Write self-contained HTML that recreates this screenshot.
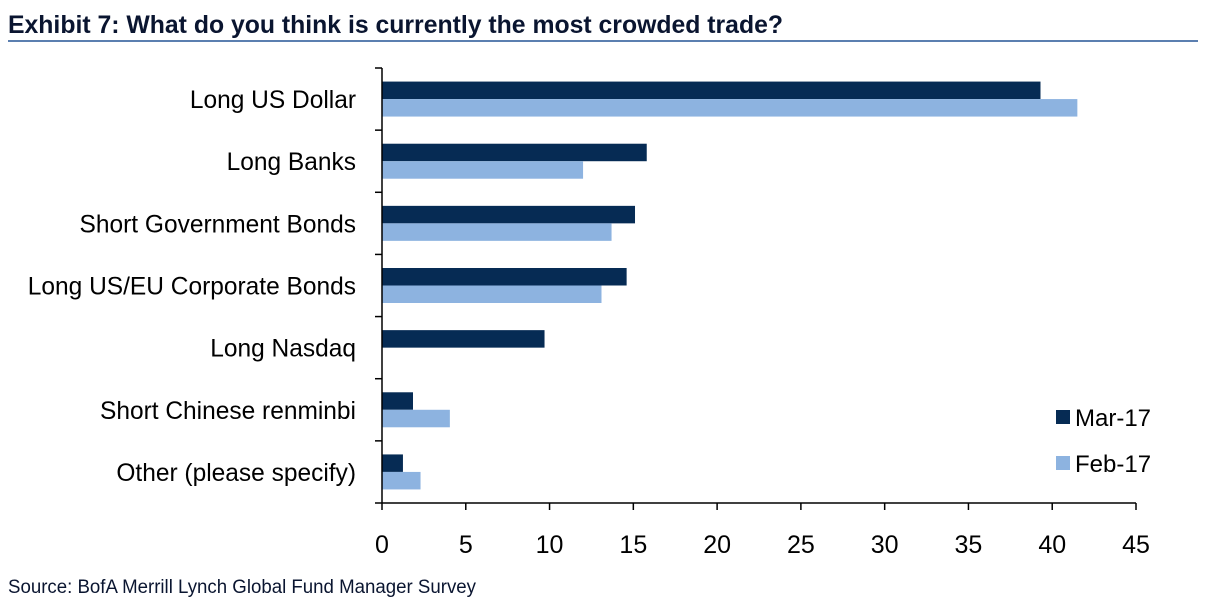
<!DOCTYPE html>
<html><head><meta charset="utf-8"><style>
body{margin:0;background:#fff;}
svg text{font-family:"Liberation Sans",Arial,sans-serif;}
</style></head><body>
<svg width="1208" height="607" viewBox="0 0 1208 607" xmlns="http://www.w3.org/2000/svg">
<text x="8" y="33" font-size="25" font-weight="bold" fill="#0a1530" textLength="775" lengthAdjust="spacingAndGlyphs">Exhibit 7: What do you think is currently the most crowded trade?</text>
<line x1="8" y1="41" x2="1198" y2="41" stroke="#5b7fb0" stroke-width="2"/>
<g id="plot"></g>
<rect x="1056" y="410" width="14" height="14" fill="#062b54"/>
<text x="1075" y="426" font-size="24" fill="#000">Mar-17</text>
<rect x="1056" y="456" width="14" height="14" fill="#8db3e0"/>
<text x="1075" y="472" font-size="24" fill="#000">Feb-17</text>
<text x="8" y="593" font-size="19" fill="#0a1530" textLength="468" lengthAdjust="spacingAndGlyphs">Source: BofA Merrill Lynch Global Fund Manager Survey</text>
</svg>
<script>
const categories = ["Long US Dollar","Long Banks","Short Government Bonds","Long US/EU Corporate Bonds","Long Nasdaq","Short Chinese renminbi","Other (please specify)"];
const mar17 = [39.3, 15.8, 15.1, 14.6, 9.7, 1.85, 1.25];
const feb17 = [41.5, 12.0, 13.7, 13.1, 0, 4.05, 2.3];
const xTicks = [0,5,10,15,20,25,30,35,40,45];

const NS="http://www.w3.org/2000/svg";
const plotG=document.getElementById('plot');
const xLeft=382, xRight=1136, yTop=68, yBottom=503;
const xMax=xTicks[xTicks.length-1];
const xs=v=>xLeft+v/xMax*(xRight-xLeft);
const rowH=(yBottom-yTop)/categories.length;
function mk(t,a){const e=document.createElementNS(NS,t);for(const k in a)e.setAttribute(k,a[k]);plotG.appendChild(e);return e;}

categories.forEach((c,i)=>{
  const yc=yTop+rowH*(i+0.5);
  const b1=mk('rect',{x:xLeft,y:yc-17.5,width:xs(mar17[i])-xLeft,height:17.5,fill:'#062b54'});
  
  
  const b2=mk('rect',{x:xLeft,y:yc,width:xs(feb17[i])-xLeft,height:17.5,fill:'#8db3e0'});
  
  
  const t=mk('text',{x:356,y:yc+9,'font-size':25,'text-anchor':'end',fill:'#000',transform:'translate(356 0) scale(0.98 1) translate(-356 0)'});
  t.textContent=c;
  
  
});
for(let i=0;i<=categories.length;i++){
  const y=yTop+rowH*i;
  const tk=mk('line',{x1:375,y1:y,x2:xLeft,y2:y,stroke:'#000','stroke-width':1.5});
  
  
}
const ya=mk('line',{x1:xLeft,y1:yTop,x2:xLeft,y2:yBottom,stroke:'#000','stroke-width':1.5});


const xa=mk('line',{x1:xLeft,y1:yBottom,x2:xRight,y2:yBottom,stroke:'#000','stroke-width':1.5});


xTicks.forEach(v=>{
  const tk=mk('line',{x1:xs(v),y1:yBottom,x2:xs(v),y2:yBottom+7,stroke:'#000','stroke-width':1.5});
  
  
  const t=mk('text',{x:xs(v),y:553,'font-size':25,'text-anchor':'middle',fill:'#000'});
  t.textContent=v;
  
  
});
</script>
</body></html>
